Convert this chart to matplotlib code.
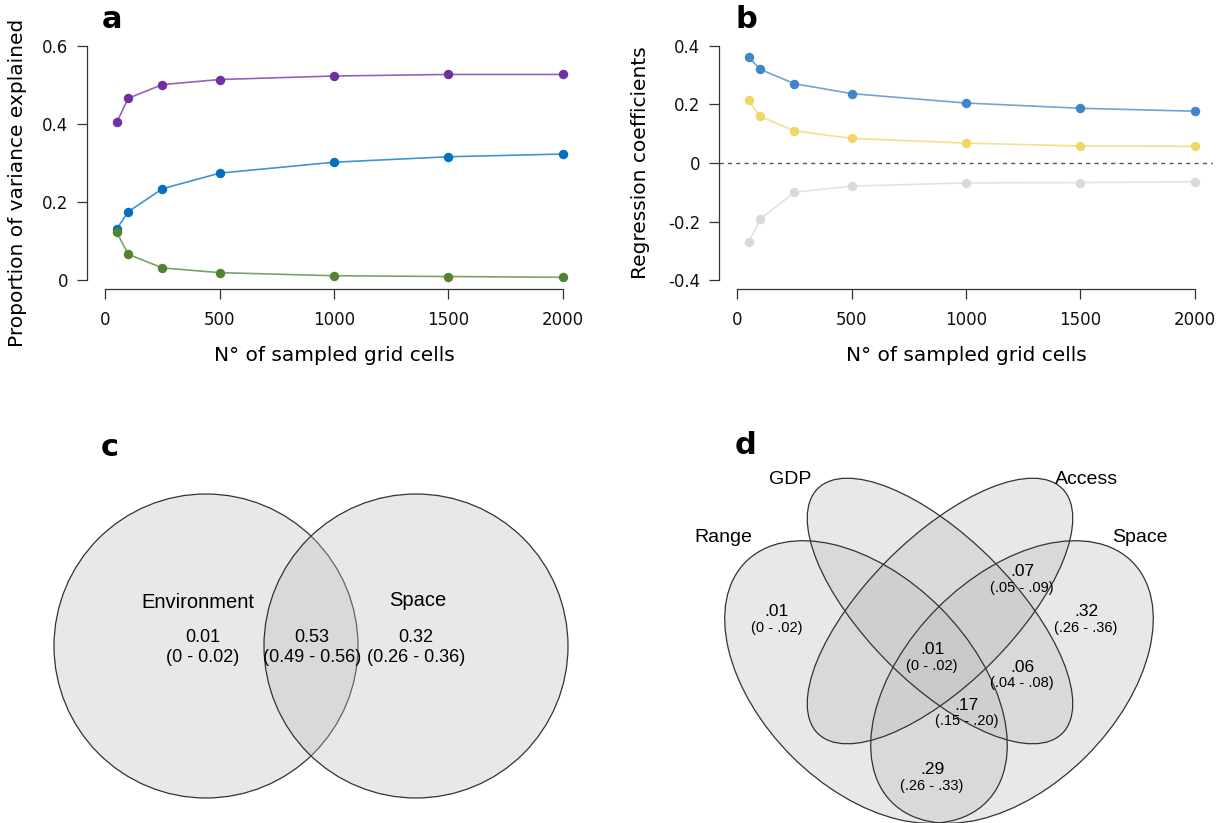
import numpy as np
import matplotlib
matplotlib.use('Agg')
import matplotlib.pyplot as plt
from matplotlib.patches import Circle, Ellipse

W, H = 1220, 823

# data
n_cells = [50, 100, 250, 500, 1000, 1500, 2000]
shared = [0.404, 0.466, 0.501, 0.514, 0.523, 0.527, 0.527]
space_only = [0.131, 0.175, 0.234, 0.274, 0.302, 0.316, 0.323]
env_only = [0.123, 0.066, 0.031, 0.019, 0.011, 0.009, 0.007]

coef_blue = [0.362, 0.320, 0.271, 0.237, 0.205, 0.187, 0.177]
coef_yellow = [0.214, 0.159, 0.110, 0.084, 0.068, 0.058, 0.057]
coef_grey = [-0.271, -0.192, -0.100, -0.079, -0.068, -0.067, -0.064]

x_ticks = [0, 500, 1000, 1500, 2000]
a_yticks = [0, 0.2, 0.4, 0.6]
a_ylabels = ['0', '0.2', '0.4', '0.6']
b_yticks = [-0.4, -0.2, 0, 0.2, 0.4]
b_ylabels = ['-0.4', '-0.2', '0', '0.2', '0.4']

venn2_names = ['Environment', 'Space']
venn2_vals = ['0.01', '0.53', '0.32']
venn2_ci = ['(0 - 0.02)', '(0.49 - 0.56)', '(0.26 - 0.36)']

venn4_names = ['GDP', 'Access', 'Range', 'Space']
venn4_vals = ['.01', '.07', '.32', '.01', '.06', '.17', '.29']
venn4_ci = ['(0 - .02)', '(.05 - .09)', '(.26 - .36)', '(0 - .02)',
            '(.04 - .08)', '(.15 - .20)', '(.26 - .33)']

fig = plt.figure(figsize=(W / 100, H / 100), dpi=100)
plt.rcParams['font.family'] = 'DejaVu Sans'


def px_axes(l, t, r, b):
    return fig.add_axes([l / W, 1 - b / H, (r - l) / W, (b - t) / H])


def style_axes(ax, ylim, yticks, ylabels):
    ax.set_xlim(-80, 2080)
    pad = (ylim[1] - ylim[0]) * 0.04
    ax.set_ylim(ylim[0] - pad, ylim[1] + pad)
    for s in ['top', 'right']:
        ax.spines[s].set_visible(False)
    ax.spines['left'].set_bounds(ylim[0], ylim[1])
    ax.spines['bottom'].set_bounds(0, 2000)
    for s in ['left', 'bottom']:
        ax.spines[s].set_color('#333333')
        ax.spines[s].set_linewidth(0.9)
    ax.set_xticks(x_ticks)
    ax.set_xticklabels([str(t) for t in x_ticks])
    ax.set_yticks(yticks)
    ax.set_yticklabels(ylabels)
    ax.tick_params(axis='both', length=7.5, width=0.9, color='#333333',
                   labelsize=12, labelcolor='#111111')
    ax.tick_params(axis='x', pad=8)
    ax.tick_params(axis='y', pad=6)
    ax.patch.set_visible(False)


def series(ax, y, col):
    ax.plot(n_cells, y, color=col, lw=1.2, alpha=0.75, clip_on=False)
    ax.plot(n_cells, y, 'o', color=col, ms=6.8, mec='none', clip_on=False)


# panel a
ax1 = px_axes(87, 36.6, 581, 289.4)
style_axes(ax1, (0, 0.6), a_yticks, a_ylabels)
series(ax1, shared, '#7030a0')
series(ax1, space_only, '#0070c0')
series(ax1, env_only, '#548235')
fig.text(334 / W, 1 - 355 / H, 'N° of sampled grid cells', ha='center',
         va='center', fontsize=14.5)
fig.text(18 / W, 1 - 183 / H, 'Proportion of variance explained',
         ha='center', va='center', rotation=90, fontsize=14.5)

# panel b
ax2 = px_axes(719, 36.6, 1213, 289.4)
style_axes(ax2, (-0.4, 0.4), b_yticks, b_ylabels)
ax2.axhline(0, color='#555555', lw=1, ls=(0, (3, 3)))
series(ax2, coef_grey, '#d9d9d9')
series(ax2, coef_yellow, '#f0d667')
series(ax2, coef_blue, '#3f86c8')
fig.text(966 / W, 1 - 355 / H, 'N° of sampled grid cells', ha='center',
         va='center', fontsize=14.5)
fig.text(641 / W, 1 - 163 / H, 'Regression coefficients',
         ha='center', va='center', rotation=90, fontsize=14.5)

# venn panels, drawn in pixel space
axv = fig.add_axes([0, 0, 1, 1])
axv.set_xlim(0, W)
axv.set_ylim(H, 0)
axv.axis('off')

fill = dict(facecolor='#bfbfbf', alpha=0.35, edgecolor='none')
edge = dict(fill=False, edgecolor='#333333', lw=0.9)

# c: two circles
for cx in [206, 416]:
    axv.add_patch(Circle((cx, 646), 152, **fill))
    axv.add_patch(Circle((cx, 646), 152, **edge))

vfont = ['Liberation Sans', 'DejaVu Sans']
axv.text(198, 603, venn2_names[0], ha='center', va='center', fontsize=14.5,
         family=vfont)
axv.text(418, 600, venn2_names[1], ha='center', va='center', fontsize=14.5,
         family=vfont)
for x, v, ci in zip([203, 312, 416], venn2_vals, venn2_ci):
    axv.text(x, 638, v, ha='center', va='center', fontsize=13, family=vfont)
    axv.text(x, 657, ci, ha='center', va='center', fontsize=13, family=vfont)

# d: four ellipses (Range, Space, GDP, Access)
ell = [((866, 682), 170, 105, 45), ((1012, 682), 170, 105, -45),
       ((940, 611), 173, 73, 45), ((940, 611), 173, 73, -45)]
for c, a, b, ang in ell:
    axv.add_patch(Ellipse(c, 2 * a, 2 * b, angle=ang, **fill))
for c, a, b, ang in ell:
    axv.add_patch(Ellipse(c, 2 * a, 2 * b, angle=ang, **edge))

name_pos = [(790, 479), (1087, 479), (723, 538), (1140, 538)]
for (x, y), nm in zip(name_pos, venn4_names):
    axv.text(x, y, nm, ha='center', va='center', fontsize=14, family=vfont)

val_pos = [(777, 612), (1022, 572), (1086, 612), (932, 650),
           (1022, 667), (967, 705), (932, 770)]
for (x, y), v, ci in zip(val_pos, venn4_vals, venn4_ci):
    axv.text(x, y, v, ha='center', va='center', fontsize=12.5, family=vfont)
    axv.text(x, y + 16, ci, ha='center', va='center', fontsize=10.5,
             family=vfont)

# panel letters
for x, y, s in [(112, 19, 'a'), (746, 19, 'b'), (110, 447, 'c'),
                (746, 445, 'd')]:
    fig.text(x / W, 1 - y / H, s, ha='center', va='center', fontsize=22,
             fontweight='bold')

fig.savefig('out.png', dpi=100)
